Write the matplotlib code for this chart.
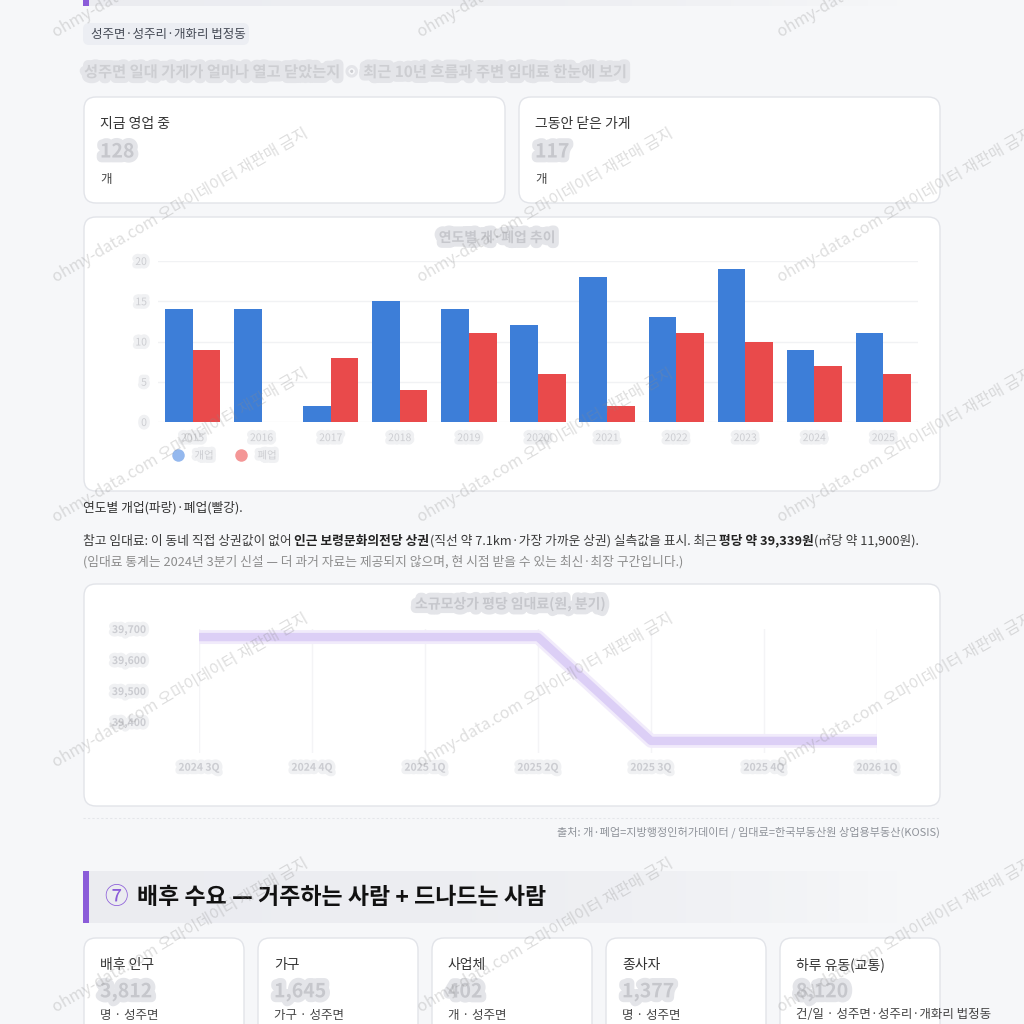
import matplotlib
matplotlib.use('Agg')
import matplotlib.pyplot as plt
import matplotlib.patheffects as pe
from matplotlib.patches import FancyBboxPatch, Rectangle
from matplotlib.lines import Line2D
import numpy as np

plt.rcParams['font.family'] = ['Noto Sans CJK KR', 'DejaVu Sans']

# 연도별 개업 / 폐업 (흐림 처리된 차트)
years = ['2015', '2016', '2017', '2018', '2019', '2020', '2021', '2022', '2023', '2024', '2025']
opened = [14, 14, 2, 15, 14, 12, 18, 13, 19, 9, 11]
closed = [9, 0, 8, 4, 11, 6, 2, 11, 10, 7, 6]

# 인근 상권 평당 임대료 (분기)
quarters = ['2024 3Q', '2024 4Q', '2025 1Q', '2025 2Q', '2025 3Q', '2025 4Q', '2026 1Q']
rent = [39674, 39674, 39674, 39674, 39339, 39339, 39339]
rent_ticks = [39400, 39500, 39600, 39700]

top_cards = ['지금 영업 중', '그동안 닫은 가게']
top_values = ['128', '117']
demand_labels = ['배후 인구', '가구', '사업체', '종사자', '하루 유동(교통)']
demand_values = ['3,812', '1,645', '402', '1,377', '8,120']
demand_units = ['명 · 성주면', '가구 · 성주면', '개 · 성주면', '명 · 성주면',
                '건/일 · 성주면·성주리·개화리 법정동']

BG = '#f6f7f9'
BLUE = '#3d7ed8'
RED = '#e94a4b'
LAV = '#dccff6'
blur = [pe.withStroke(linewidth=7, foreground='#e4e5e9')]
blur_soft = [pe.withStroke(linewidth=5, foreground='#f0f1f3')]

fig = plt.figure(figsize=(10.24, 10.24), dpi=100)
fig.patch.set_facecolor(BG)
page = fig.add_axes([0, 0, 1, 1])
page.set_xlim(0, 1024)
page.set_ylim(1024, 0)
page.axis('off')


def frame(x0, y0, x1, y1):
    return [x0 / 1024, 1 - y1 / 1024, (x1 - x0) / 1024, (y1 - y0) / 1024]


def card(x0, y0, x1, y1, r=12):
    page.add_patch(FancyBboxPatch((x0, y0), x1 - x0, y1 - y0,
                                  boxstyle=f'round,pad=0,rounding_size={r}',
                                  fc='white', ec='#e2e4e9', lw=1.0, zorder=1))


def band(x0, y0, x1, y1):
    grad = np.linspace(0, 1, 256)
    c0 = np.array([0.925, 0.929, 0.945])
    c1 = np.array([0.965, 0.969, 0.976])
    img = c0[None, :] * (1 - grad[:, None] ** 3) + c1[None, :] * grad[:, None] ** 3
    page.imshow(img[None, :, :], extent=(x0, x1, y1, y0), aspect='auto', zorder=1)
    page.add_patch(Rectangle((x0, y0), 6, y1 - y0, color='#8b5cd9', lw=0, zorder=2))


# 상단 섹션 끝자락
band(83, -20, 900, 6)

# 법정동 알약
page.add_patch(FancyBboxPatch((83, 23), 166, 22, boxstyle='round,pad=0,rounding_size=6',
                              fc='#eceef3', ec='none', zorder=1))
page.text(91, 34.5, '성주면·성주리·개화리 법정동', fontsize=9, color='#454a55',
          va='center', ha='left', zorder=3)

# 흐린 설명 문장
page.text(84, 72, '성주면 일대 가게가 얼마나 열고 닫았는지  ·  최근 10년 흐름과 주변 임대료 한눈에 보기',
          fontsize=11, color='#cdced2', va='center', ha='left', fontweight='bold',
          path_effects=blur, zorder=3)

# 상단 카드 두 개
for i, (lab, val) in enumerate(zip(top_cards, top_values)):
    x0 = 84 + i * 435
    card(x0, 97, x0 + 421, 203)
    page.text(x0 + 16, 124, lab, fontsize=10, color='#333333', va='center', zorder=3)
    page.text(x0 + 16, 152, val, fontsize=14, color='#c6c7cc', va='center', fontweight='bold',
              path_effects=blur, zorder=3)
    page.text(x0 + 16, 180, '개', fontsize=9, color='#444444', va='center', zorder=3)

# 막대 차트 카드
card(84, 217, 940, 491)
page.text(497, 238, '연도별 개·폐업 추이', fontsize=10, color='#c6c7cc', ha='center', va='center',
          fontweight='bold', path_effects=blur, zorder=3)

ax = fig.add_axes(frame(158, 261, 918, 422))
ax.set_facecolor('none')
x = np.arange(len(years))
ax.bar(x - 0.2, opened, width=0.4, color=BLUE, lw=0, zorder=2)
ax.bar(x + 0.2, closed, width=0.4, color=RED, lw=0, zorder=2)
ax.set_xlim(-0.5, len(years) - 0.5)
ax.set_ylim(0, 20)
ax.set_yticks([0, 5, 10, 15, 20])
ax.set_xticks(x)
ax.set_xticklabels(years)
ax.grid(axis='y', color='#f1f2f4', lw=1)
ax.set_axisbelow(True)
for s in ax.spines.values():
    s.set_visible(False)
ax.tick_params(length=0, pad=8, labelsize=7.5, labelcolor='#cdced2')
for t in ax.get_xticklabels() + ax.get_yticklabels():
    t.set_path_effects(blur_soft)
handles = [Line2D([], [], marker='o', ls='none', ms=9, mfc='#94b8ee', mec='none'),
           Line2D([], [], marker='o', ls='none', ms=9, mfc='#f49696', mec='none')]
leg = ax.legend(handles, ['개업', '폐업'], loc='upper left', bbox_to_anchor=(0.0, -0.12),
                ncol=2, frameon=False, fontsize=7.5, handletextpad=0.6, columnspacing=1.6)
for t in leg.get_texts():
    t.set_color('#cdced2')
    t.set_path_effects(blur_soft)

# 본문 설명
page.text(83, 508, '연도별 개업(파랑)·폐업(빨강).', fontsize=9.2, color='#333333', va='center', zorder=3)

pieces = [('참고 임대료: 이 동네 직접 상권값이 없어 ', False),
          ('인근 보령문화의전당 상권', True),
          ('(직선 약 7.1km·가장 가까운 상권) 실측값을 표시. 최근 ', False),
          ('평당 약 39,339원', True),
          ('(㎡당 약 11,900원).', False)]
fig.canvas.draw()
renderer = fig.canvas.get_renderer()
cx = 83
for txt, bold in pieces:
    t = page.text(cx, 541, txt, fontsize=9.2, color='#222222' if bold else '#3a3a3a',
                  fontweight='bold' if bold else 'normal', va='center', ha='left', zorder=3)
    cx += t.get_window_extent(renderer).width
page.text(83, 562, '(임대료 통계는 2024년 3분기 신설 — 더 과거 자료는 제공되지 않으며, '
          '현 시점 받을 수 있는 최신·최장 구간입니다.)',
          fontsize=9.2, color='#8c8c8c', va='center', ha='left', zorder=3)

# 임대료 선 차트 카드
card(84, 584, 940, 806)
page.text(510, 604, '소규모상가 평당 임대료(원, 분기)', fontsize=10, color='#c6c7cc', ha='center',
          va='center', fontweight='bold', path_effects=blur, zorder=3)
ax2 = fig.add_axes(frame(199, 629, 877, 753))
ax2.set_facecolor('none')
xi = np.arange(len(quarters))
ax2.plot(xi, rent, color=LAV, lw=6, solid_capstyle='round', solid_joinstyle='round',
         path_effects=[pe.Stroke(linewidth=10, foreground='#f1ebfb'), pe.Normal()], zorder=3)
ax2.set_xlim(0, len(quarters) - 1)
ax2.set_ylim(39300, 39700)
ax2.set_yticks(rent_ticks)
ax2.set_yticklabels([f'{v:,}' for v in rent_ticks])
ax2.set_xticks(xi)
ax2.set_xticklabels(quarters)
ax2.grid(axis='x', color='#f4f4f6', lw=1)
for s in ax2.spines.values():
    s.set_visible(False)
ax2.tick_params(length=0, labelsize=7.5, labelcolor='#cbccd1')
ax2.tick_params(axis='y', pad=38)
ax2.tick_params(axis='x', pad=7)
for t in ax2.get_xticklabels() + ax2.get_yticklabels():
    t.set_path_effects(blur_soft)
    t.set_fontweight('bold')

# 출처
page.plot([83, 940], [818, 818], color='#e4e6ea', lw=0.8, ls=(0, (2, 2)), zorder=2)
page.text(940, 832, '출처: 개·폐업=지방행정인허가데이터 / 임대료=한국부동산원 상업용부동산(KOSIS)',
          fontsize=8, color='#8f939a', ha='right', va='center', zorder=3)

# ⑦ 섹션 제목
band(83, 871, 900, 923)
page.text(104, 897, '⑦', fontsize=17, color='#8b5cd9', va='center', ha='left', zorder=3)
page.text(137, 897, '배후 수요 — 거주하는 사람 + 드나드는 사람', fontsize=16.5, fontweight='bold',
          color='#111111', va='center', ha='left', zorder=3)

# 배후 수요 카드
for i, (lab, val, unit) in enumerate(zip(demand_labels, demand_values, demand_units)):
    x0 = 84 + i * 174
    card(x0, 938, x0 + 160, 1060)
    page.text(x0 + 16, 965, lab, fontsize=10, color='#333333', va='center', zorder=3)
    page.text(x0 + 16, 992, val, fontsize=14, color='#c6c7cc', va='center', fontweight='bold',
              path_effects=blur, zorder=3)
    page.text(x0 + 16, 1015, unit, fontsize=9, color='#444444', va='center', zorder=3)

# 워터마크
for cy in [-40, 205, 445, 690, 935]:
    for wx in [180, 545, 905]:
        fig.text(wx / 1024, 1 - cy / 1024, 'ohmy-data.com 오마이데이터 재판매 금지',
                 fontsize=11.5, color='#8a8a8a', alpha=0.28, rotation=30,
                 ha='center', va='center', rotation_mode='anchor', zorder=10)

fig.savefig('out.png', dpi=100, facecolor=BG)
